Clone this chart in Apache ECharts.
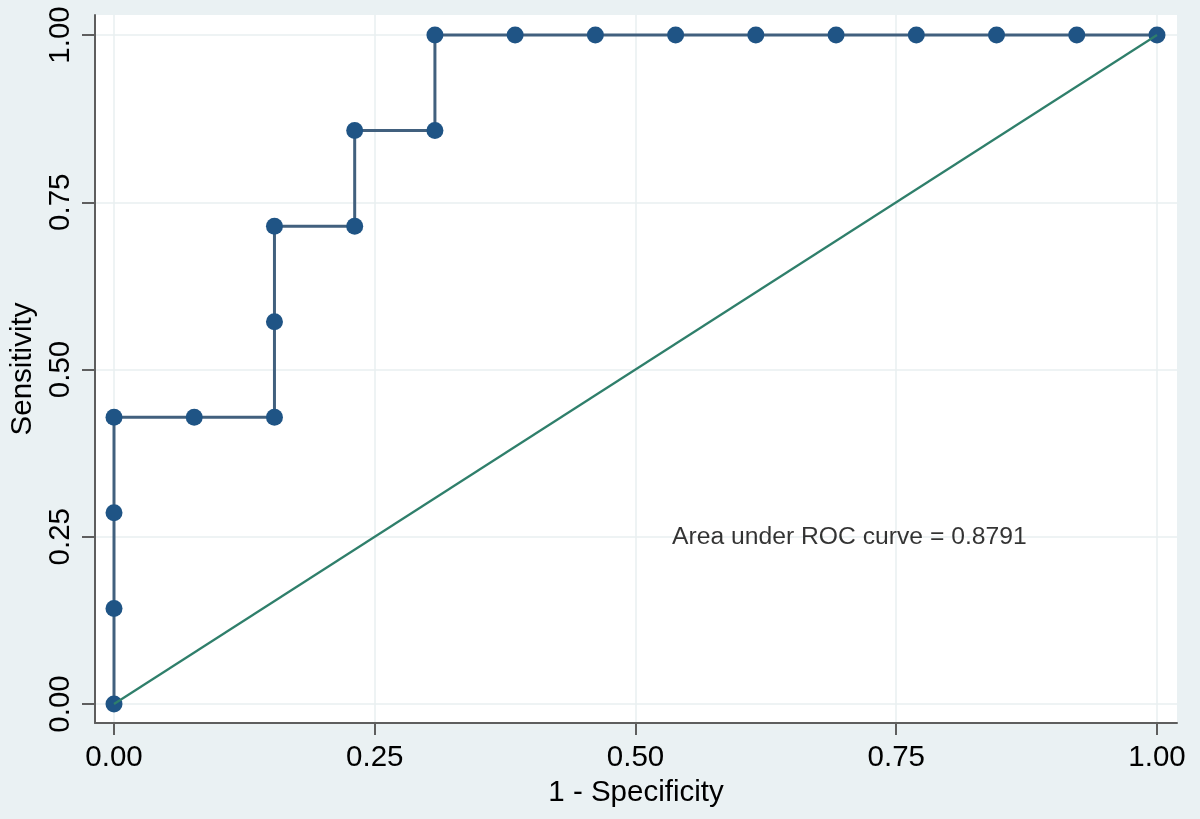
<!DOCTYPE html>
<html>
<head>
<meta charset="utf-8">
<script src="https://cdn.jsdelivr.net/npm/echarts@6/dist/echarts.min.js"></script>
<style>
html,body{margin:0;padding:0;background:#eaf1f3;}
#chart{width:1200px;height:819px;}
</style>
</head>
<body>
<div id="chart"></div>
<script>
// ROC curve points (1 - Specificity, Sensitivity)
const fpr = [0, 0, 0, 0, 1/13, 2/13, 2/13, 2/13, 3/13, 3/13, 4/13, 4/13, 5/13, 6/13, 7/13, 8/13, 9/13, 10/13, 11/13, 12/13, 1];
const tpr = [0, 1/7, 2/7, 3/7, 3/7, 3/7, 4/7, 5/7, 5/7, 6/7, 6/7, 1, 1, 1, 1, 1, 1, 1, 1, 1, 1];
// reference diagonal
const refX = [0, 1];
const refY = [0, 1];
// tick values
const xTicks = [0, 0.25, 0.5, 0.75, 1];
const yTicks = [0, 0.25, 0.5, 0.75, 1];
// annotation
const annotText = 'Area under ROC curve = 0.8791';
const annotPos = [0.535, 0.25];

const FONT = '"Liberation Sans", Arial, Helvetica, sans-serif';
const rocData = fpr.map((x, i) => [x, tpr[i]]);
const refData = refX.map((x, i) => [x, refY[i]]);

const chart = echarts.init(document.getElementById('chart'), null, {renderer: 'canvas'});
chart.setOption({
  backgroundColor: '#eaf1f3',
  animation: false,
  grid: {
    left: 95, right: 23, top: 15, bottom: 96,
    show: true, backgroundColor: '#ffffff', borderWidth: 0
  },
  xAxis: {
    type: 'value',
    min: -0.01822, max: 1.01918,
    name: '1 - Specificity',
    nameLocation: 'middle',
    nameGap: 55,
    nameTextStyle: {fontFamily: FONT, fontSize: 29.5, color: '#000'},
    axisLine: {show: true, onZero: false, lineStyle: {color: '#5e5e5e', width: 2}},
    axisTick: {show: true, length: 12, customValues: xTicks, lineStyle: {color: '#5e5e5e', width: 2}},
    axisLabel: {customValues: xTicks, margin: 20, fontFamily: FONT, fontSize: 29.5, color: '#000',
      formatter: v => v.toFixed(2)},
    splitLine: {show: true, lineStyle: {color: '#e8eff1', width: 1.5}}
  },
  yAxis: {
    type: 'value',
    min: -0.0284, max: 1.0299,
    name: 'Sensitivity',
    nameLocation: 'middle',
    nameGap: 55,
    nameTextStyle: {fontFamily: FONT, fontSize: 29.5, color: '#000'},
    axisLine: {show: true, onZero: false, lineStyle: {color: '#5e5e5e', width: 2}},
    axisTick: {show: true, length: 13, customValues: yTicks, lineStyle: {color: '#5e5e5e', width: 2}},
    axisLabel: {customValues: yTicks, rotate: 90, margin: 19, fontFamily: FONT, fontSize: 29.5, color: '#000',
      formatter: v => v.toFixed(2)},
    splitLine: {show: true, lineStyle: {color: '#e8eff1', width: 1.5}}
  },
  series: [
    {
      type: 'line',
      data: rocData,
      symbol: 'circle',
      symbolSize: 17,
      lineStyle: {color: '#41607e', width: 3},
      itemStyle: {color: '#1f5485'},
      z: 3
    },
    {
      type: 'line',
      data: refData,
      symbol: 'none',
      lineStyle: {color: '#2f7f6b', width: 2.2},
      z: 5
    },
    {
      type: 'scatter',
      data: [annotPos],
      symbolSize: 0,
      silent: true,
      label: {
        show: true, position: 'right', distance: 0,
        formatter: annotText,
        fontFamily: FONT, fontSize: 24.7, color: '#000'
      },
      z: 6
    }
  ]
});
</script>
</body>
</html>
